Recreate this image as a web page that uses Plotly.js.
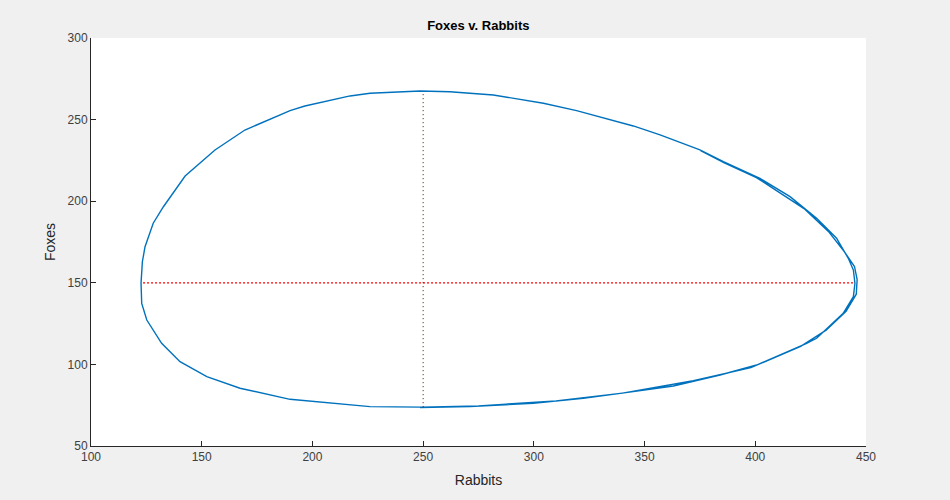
<!DOCTYPE html>
<html>
<head>
<meta charset="utf-8">
<script src="https://cdn.plot.ly/plotly-3.0.1.min.js"></script>
<style>
html,body{margin:0;padding:0;background:#f0f0f0;}
#chart{width:950px;height:500px;}
</style>
</head>
<body>
<div id="chart"></div>
<script>
var rabbits = [248.6, 271.2, 299.7, 322.3, 344.9, 363.0, 384.1, 400.6, 423.2, 427.7, 439.7, 444.3, 445.0, 444.3, 442.0, 436.7, 427.7, 415.7, 402.1, 385.6, 375.0, 357.0, 344.9, 319.3, 304.3, 281.7, 262.1, 248.6, 226.0, 217.0, 196.6, 189.9, 169.5, 156.0, 142.5, 132.7, 128.1, 124.4, 123.2, 122.6, 122.9, 125.2, 131.9, 140.2, 152.3, 167.3, 189.9, 226.0, 249.0, 275.0, 310.0, 340.0, 372.0, 398.0, 420.5, 432.0, 441.0, 445.6, 446.0, 444.8, 440.0, 433.0, 422.0, 410.0, 400.5, 386.0, 375.3];
var foxes   = [73.5, 74.1, 76.2, 79.2, 83.3, 86.8, 93.5, 99.6, 112.9, 116.0, 131.3, 141.5, 149.7, 157.8, 165.0, 177.3, 189.5, 202.8, 214.0, 224.2, 231.4, 240.6, 246.1, 255.5, 260.0, 265.1, 267.1, 267.5, 266.1, 264.5, 258.3, 255.5, 243.6, 231.4, 215.4, 196.6, 186.5, 172.1, 162.9, 149.9, 137.4, 127.2, 112.9, 101.7, 92.5, 85.4, 78.6, 74.1, 73.8, 74.6, 77.6, 82.4, 90.0, 98.0, 111.0, 121.0, 132.5, 143.0, 152.0, 160.0, 169.5, 181.5, 195.5, 206.0, 214.5, 223.5, 231.0];
// Reference lines
var hLineX = [123.5, 444.5];
var hLineY = [150, 150];
var vLineX = [250, 250];
var vLineY = [73.8, 267.2];
var xTicks = [100, 150, 200, 250, 300, 350, 400, 450];
var yTicks = [50, 100, 150, 200, 250, 300];

var traces = [
  {x: rabbits, y: foxes, type: 'scatter', mode: 'lines',
   line: {color: '#0072bd', width: 1.4}, hoverinfo: 'x+y'},
  {x: hLineX, y: hLineY, type: 'scatter', mode: 'lines',
   line: {color: '#ff0000', width: 1.3, dash: '2px,2px'}},
  {x: vLineX, y: vLineY, type: 'scatter', mode: 'lines',
   line: {color: '#600000', width: 1, dash: '1px,3px'}}
];

var axisFont = {family: 'Liberation Sans, Arial, sans-serif', size: 12, color: '#404040'};
var layout = {
  width: 950, height: 500,
  paper_bgcolor: '#f0f0f0', plot_bgcolor: '#ffffff',
  margin: {l: 91, r: 84, t: 38, b: 54},
  showlegend: false,
  title: {text: '<b>Foxes v. Rabbits</b>', x: 0.5035, xanchor: 'center', y: 0.949, yanchor: 'middle',
          font: {family: 'Liberation Sans, Arial, sans-serif', size: 13, color: '#000000'}},
  xaxis: {range: [100, 450], tickvals: xTicks, ticktext: xTicks.map(String),
          showgrid: false, zeroline: false, showline: true, linecolor: '#262626', linewidth: 1,
          ticks: 'inside', ticklen: 5, tickcolor: '#262626', tickfont: axisFont,
          title: {text: 'Rabbits', standoff: 11, font: {family: 'Liberation Sans, Arial, sans-serif', size: 14, color: '#262626'}}},
  yaxis: {range: [50, 300], tickvals: yTicks, ticktext: yTicks.map(String),
          showgrid: false, zeroline: false, showline: true, linecolor: '#262626', linewidth: 1,
          ticks: 'inside', ticklen: 5, tickcolor: '#262626', tickfont: axisFont,
          title: {text: 'Foxes', standoff: 8, font: {family: 'Liberation Sans, Arial, sans-serif', size: 14, color: '#262626'}}}
};
Plotly.newPlot('chart', traces, layout, {displayModeBar: false, staticPlot: true});
</script>
</body>
</html>
